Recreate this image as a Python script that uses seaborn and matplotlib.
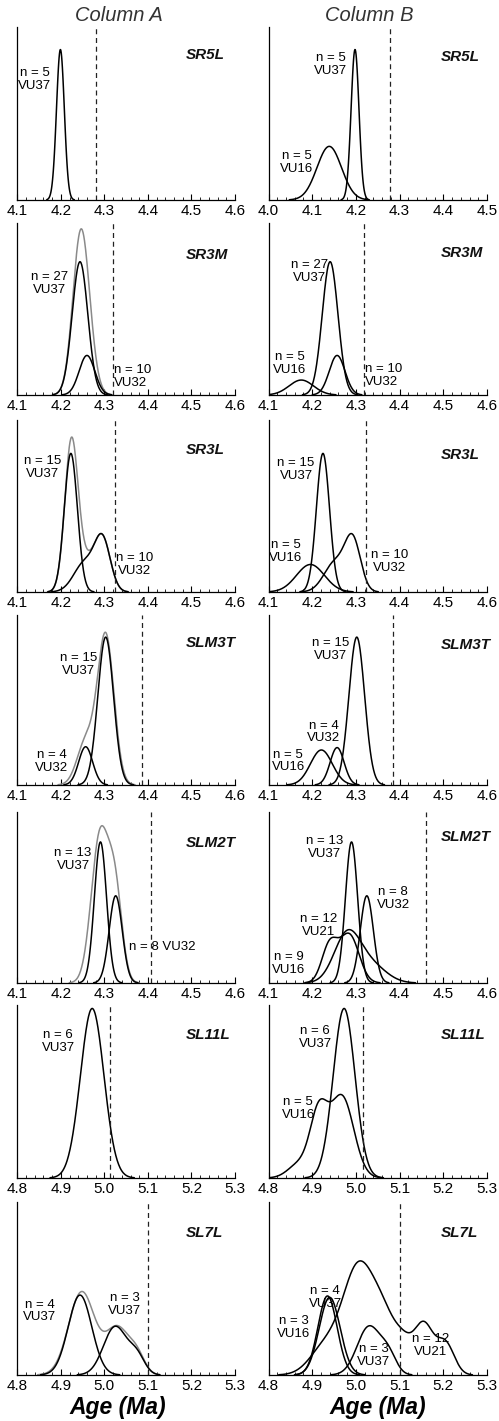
import numpy as np
import pandas as pd
import matplotlib
matplotlib.use("Agg")
import matplotlib.pyplot as plt
from matplotlib.ticker import MultipleLocator, FormatStrFormatter
import seaborn as sns

sns.set_theme(style="white")
plt.rcParams["font.family"] = ["Liberation Sans", "DejaVu Sans"]

# ---------------- DATA ----------------
samples = ["SR5L", "SR3M", "SR3L", "SLM3T", "SLM2T", "SL11L", "SL7L"]
xrange_a = [(4.1, 4.6), (4.1, 4.6), (4.1, 4.6), (4.1, 4.6), (4.1, 4.6), (4.8, 5.3), (4.8, 5.3)]
xrange_b = [(4.0, 4.5), (4.1, 4.6), (4.1, 4.6), (4.1, 4.6), (4.1, 4.6), (4.8, 5.3), (4.8, 5.3)]
limit_a = [4.28, 4.319, 4.324, 4.387, 4.406, 5.014, 5.10]
limit_b = [4.278, 4.318, 4.322, 4.386, 4.460, 5.016, 5.10]

# Each curve: probability-density peaks
# as (age Ma, spread Ma, relative height)
# Column A
a_sr5l_vu37 = [(4.199, 0.009, 0.87)]
a_sr3m_all = [(4.244, 0.018, 0.80), (4.260, 0.018, 0.23)]
a_sr3m_vu37 = [(4.244, 0.018, 0.775)]
a_sr3m_vu32 = [(4.260, 0.018, 0.23)]
a_sr3l_all = [(4.224, 0.015, 0.82), (4.296, 0.018, 0.29), (4.255, 0.025, 0.17)]
a_sr3l_vu37 = [(4.223, 0.015, 0.806)]
a_sr3l_vu32 = [(4.296, 0.018, 0.29), (4.255, 0.025, 0.17)]
a_slm3t_all = [(4.303, 0.019, 0.88), (4.257, 0.020, 0.25)]
a_slm3t_vu37 = [(4.303, 0.018, 0.87)]
a_slm3t_vu32 = [(4.257, 0.016, 0.225)]
a_slm2t_all = [(4.290, 0.020, 0.86), (4.325, 0.016, 0.50)]
a_slm2t_vu37 = [(4.291, 0.014, 0.825)]
a_slm2t_vu32 = [(4.326, 0.015, 0.51)]
a_sl11l_vu37 = [(4.972, 0.027, 0.98)]
a_sl7l_all = [(4.948, 0.030, 0.48), (5.030, 0.027, 0.27), (5.075, 0.018, 0.10)]
a_sl7l_vu37_n4 = [(4.944, 0.027, 0.462)]
a_sl7l_vu37_n3 = [(5.025, 0.027, 0.28), (5.075, 0.018, 0.10)]
# Column B
b_sr5l_vu37 = [(4.198, 0.009, 0.87)]
b_sr5l_vu16 = [(4.139, 0.028, 0.31)]
b_sr3m_vu37 = [(4.241, 0.018, 0.775)]
b_sr3m_vu32 = [(4.257, 0.018, 0.23)]
b_sr3m_vu16 = [(4.175, 0.028, 0.087)]
b_sr3l_vu37 = [(4.2246, 0.015, 0.806)]
b_sr3l_vu32 = [(4.293, 0.018, 0.29), (4.252, 0.025, 0.17)]
b_sr3l_vu16 = [(4.196, 0.032, 0.16)]
b_slm3t_vu37 = [(4.302, 0.018, 0.87)]
b_slm3t_vu32 = [(4.257, 0.016, 0.22)]
b_slm3t_vu16 = [(4.221, 0.025, 0.206)]
b_slm2t_vu37 = [(4.290, 0.014, 0.825)]
b_slm2t_vu32 = [(4.325, 0.015, 0.51)]
b_slm2t_vu21 = [(4.280, 0.030, 0.28), (4.335, 0.035, 0.10)]
b_slm2t_vu16 = [(4.240, 0.018, 0.22), (4.285, 0.022, 0.28)]
b_sl11l_vu37 = [(4.973, 0.025, 0.98)]
b_sl11l_vu16 = [(4.968, 0.027, 0.47), (4.915, 0.020, 0.36), (4.870, 0.025, 0.08)]
b_sl7l_vu16 = [(4.935, 0.022, 0.457)]
b_sl7l_vu37_n4 = [(4.940, 0.024, 0.449)]
b_sl7l_vu37_n3 = [(5.030, 0.027, 0.28), (5.075, 0.018, 0.10)]
b_sl7l_vu21 = [(5.005, 0.035, 0.60), (4.930, 0.035, 0.16), (5.065, 0.030, 0.29),
               (5.110, 0.020, 0.12), (5.155, 0.022, 0.29), (5.205, 0.020, 0.18)]

curves_a = [
    [(a_sr5l_vu37, "k")],
    [(a_sr3m_all, "g"), (a_sr3m_vu37, "k"), (a_sr3m_vu32, "k")],
    [(a_sr3l_all, "g"), (a_sr3l_vu37, "k"), (a_sr3l_vu32, "k")],
    [(a_slm3t_all, "g"), (a_slm3t_vu37, "k"), (a_slm3t_vu32, "k")],
    [(a_slm2t_all, "g"), (a_slm2t_vu37, "k"), (a_slm2t_vu32, "k")],
    [(a_sl11l_vu37, "k")],
    [(a_sl7l_all, "g"), (a_sl7l_vu37_n4, "k"), (a_sl7l_vu37_n3, "k")],
]
curves_b = [
    [(b_sr5l_vu37, "k"), (b_sr5l_vu16, "k")],
    [(b_sr3m_vu37, "k"), (b_sr3m_vu32, "k"), (b_sr3m_vu16, "k")],
    [(b_sr3l_vu37, "k"), (b_sr3l_vu32, "k"), (b_sr3l_vu16, "k")],
    [(b_slm3t_vu37, "k"), (b_slm3t_vu32, "k"), (b_slm3t_vu16, "k")],
    [(b_slm2t_vu37, "k"), (b_slm2t_vu32, "k"), (b_slm2t_vu21, "k"), (b_slm2t_vu16, "k")],
    [(b_sl11l_vu37, "k"), (b_sl11l_vu16, "k")],
    [(b_sl7l_vu16, "k"), (b_sl7l_vu37_n4, "k"), (b_sl7l_vu37_n3, "k"), (b_sl7l_vu21, "k")],
]

# Curve labels: (text, x in Ma, vertical position as axes fraction, ha)
labels_a = [
    [("n = 5\nVU37", 4.140, 0.697, "center")],
    [("n = 27\nVU37", 4.175, 0.648, "center"), ("n = 10\nVU32", 4.322, 0.105, "left")],
    [("n = 15\nVU37", 4.158, 0.725, "center"), ("n = 10\nVU32", 4.370, 0.161, "center")],
    [("n = 15\nVU37", 4.240, 0.710, "center"), ("n = 4\nVU32", 4.179, 0.137, "center")],
    [("n = 13\nVU37", 4.228, 0.724, "center"), ("n = 8 VU32", 4.357, 0.213, "left")],
    [("n = 6\nVU37", 4.894, 0.788, "center")],
    [("n = 4\nVU37", 4.852, 0.370, "center"), ("n = 3\nVU37", 5.047, 0.407, "center")],
]
labels_b = [
    [("n = 5\nVU37", 4.142, 0.783, "center"), ("n = 5\nVU16", 4.065, 0.217, "center")],
    [("n = 27\nVU37", 4.194, 0.718, "center"), ("n = 5\nVU16", 4.148, 0.182, "center"),
     ("n = 10\nVU32", 4.320, 0.113, "left")],
    [("n = 15\nVU37", 4.163, 0.712, "center"), ("n = 5\nVU16", 4.140, 0.234, "center"),
     ("n = 10\nVU32", 4.378, 0.176, "center")],
    [("n = 15\nVU37", 4.243, 0.797, "center"), ("n = 4\nVU32", 4.226, 0.312, "center"),
     ("n = 5\nVU16", 4.145, 0.141, "center")],
    [("n = 13\nVU37", 4.228, 0.794, "center"), ("n = 8\nVU32", 4.385, 0.495, "center"),
     ("n = 12\nVU21", 4.215, 0.335, "center"), ("n = 9\nVU16", 4.147, 0.116, "center")],
    [("n = 6\nVU37", 4.907, 0.812, "center"), ("n = 5\nVU16", 4.868, 0.404, "center")],
    [("n = 4\nVU37", 4.930, 0.448, "center"), ("n = 3\nVU16", 4.857, 0.272, "center"),
     ("n = 3\nVU37", 5.040, 0.111, "center"), ("n = 12\nVU21", 5.170, 0.170, "center")],
]
sample_label_y_a = [0.838, 0.814, 0.824, 0.835, 0.817, 0.827, 0.823]
sample_label_y_b = [0.827, 0.826, 0.795, 0.824, 0.854, 0.827, 0.823]

column_titles = ["Column A", "Column B"]
x_title = "Age (Ma)"

# ---------------- LAYOUT ----------------
W, H = 499, 1421
fig = plt.figure(figsize=(W / 100, H / 100), dpi=100)
col_left = [17.3, 268.5]
col_right = [235.0, 487.0]
row_bottom = [200, 395, 592, 785, 983, 1178, 1375]
row_top = [27, 223, 420, 615, 812, 1005, 1202]
GRAY = "#8a8a8a"


def density(x, comps):
    y = np.zeros_like(x)
    for mu, sd, amp in comps:
        y += amp * np.exp(-0.5 * ((x - mu) / sd) ** 2)
    return y


for c, (curves, labels, xr, lim, sly) in enumerate([
        (curves_a, labels_a, xrange_a, limit_a, sample_label_y_a),
        (curves_b, labels_b, xrange_b, limit_b, sample_label_y_b)]):
    for r in range(7):
        l = col_left[c] / W
        w = (col_right[c] - col_left[c]) / W
        b = 1 - row_bottom[r] / H
        h = (row_bottom[r] - row_top[r]) / H
        ax = fig.add_axes([l, b, w, h])
        x0, x1 = xr[r]
        xs = np.linspace(x0, x1, 600)
        for comps, kind in curves[r]:
            ys = density(xs, comps)
            df = pd.DataFrame({"age": xs, "p": ys})
            df = df[df["p"] > 0.0015]
            sns.lineplot(data=df, x="age", y="p", ax=ax, estimator=None,
                         color=(GRAY if kind == "g" else "black"),
                         linewidth=1.1, sort=True)
        ax.axvline(lim[r], color="#222222", lw=0.9, ls=(0, (4, 3)), ymin=0, ymax=1)
        ax.set_xlim(x0, x1)
        ax.set_ylim(0, 1)
        ax.set_xlabel("")
        ax.set_ylabel("")
        ax.set_yticks([])
        for s in ["top", "right"]:
            ax.spines[s].set_visible(False)
        for s in ["left", "bottom"]:
            ax.spines[s].set_color("black")
            ax.spines[s].set_linewidth(0.9)
        ax.xaxis.set_major_locator(MultipleLocator(0.1))
        ax.xaxis.set_minor_locator(MultipleLocator(0.02))
        ax.xaxis.set_major_formatter(FormatStrFormatter("%.1f"))
        ax.tick_params(axis="x", which="major", direction="in", length=4, width=0.8,
                       labelsize=11, pad=3, colors="black", bottom=True)
        ax.tick_params(axis="x", which="minor", direction="in", length=2.2, width=0.7,
                       bottom=True)
        ax.set_facecolor("none")
        tr = ax.get_xaxis_transform()
        for txt, xv, yv, ha in labels[r]:
            ax.text(xv, yv, txt, transform=tr, ha=ha, va="center", fontsize=9.5,
                    linespacing=1.1, color="black")
        ax.text(0.775 if c == 0 else 0.79, sly[r], samples[r], transform=ax.transAxes,
                ha="left", va="center", fontsize=11, fontweight="bold",
                fontstyle="italic", color="#111111")

fig.text(119 / W, 1 - 20.7 / H, column_titles[0], ha="center", va="baseline",
         fontsize=14.5, fontstyle="italic", color="#333333")
fig.text(369 / W, 1 - 20.7 / H, column_titles[1], ha="center", va="baseline",
         fontsize=14.5, fontstyle="italic", color="#333333")
fig.text(117.5 / W, 1 - 1414 / H, x_title, ha="center", va="baseline",
         fontsize=16.5, fontweight="bold", fontstyle="italic", color="black")
fig.text(378 / W, 1 - 1414 / H, x_title, ha="center", va="baseline",
         fontsize=16.5, fontweight="bold", fontstyle="italic", color="black")

fig.savefig("out.png", dpi=100, facecolor="white")
